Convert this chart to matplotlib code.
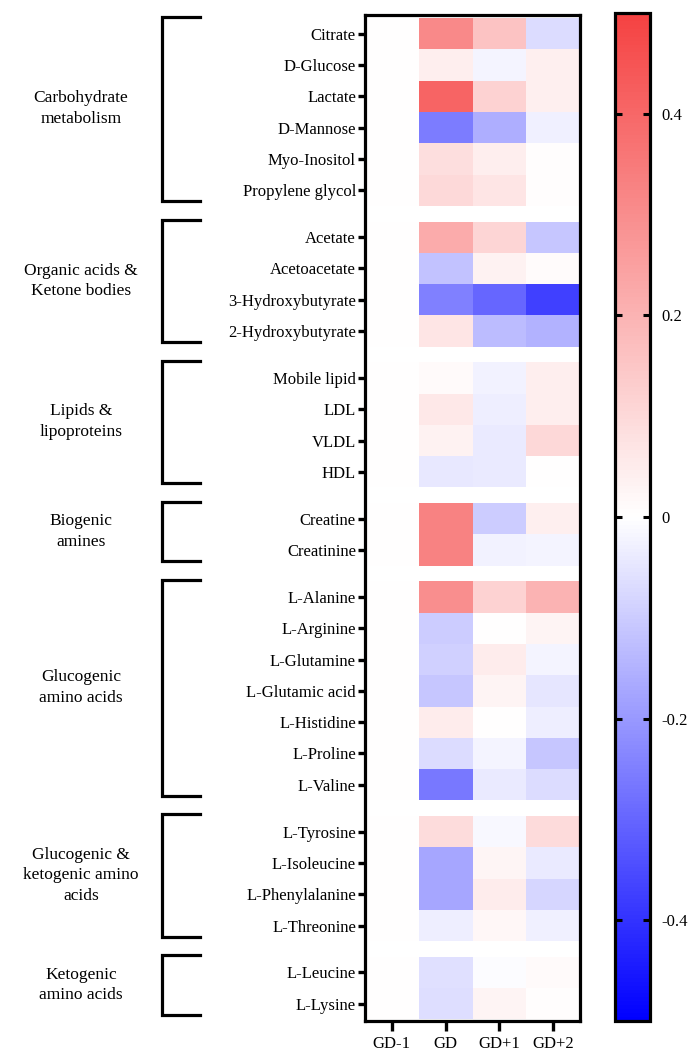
"""
Heatmap of metabolite changes (GD-1 .. GD+2) grouped by metabolic pathway.
"""

import matplotlib
matplotlib.use("Agg")
import matplotlib.pyplot as plt
import numpy as np
from matplotlib.colors import LinearSegmentedColormap
from matplotlib.transforms import blended_transform_factory

# ---------------------------------------------------------------------------
# Data
# ---------------------------------------------------------------------------
timepoints = ["GD-1", "GD", "GD+1", "GD+2"]

group_names = [
    "Carbohydrate\nmetabolism",
    "Organic acids &\nKetone bodies",
    "Lipids &\nlipoproteins",
    "Biogenic\namines",
    "Glucogenic\namino acids",
    "Glucogenic &\nketogenic amino\nacids",
    "Ketogenic\namino acids",
]
group_sizes = [6, 4, 4, 2, 7, 4, 2]

metabolites = [
    "Citrate", "D-Glucose", "Lactate", "D-Mannose", "Myo-Inositol", "Propylene glycol",
    "Acetate", "Acetoacetate", "3-Hydroxybutyrate", "2-Hydroxybutyrate",
    "Mobile lipid", "LDL", "VLDL", "HDL",
    "Creatine", "Creatinine",
    "L-Alanine", "L-Arginine", "L-Glutamine", "L-Glutamic acid", "L-Histidine",
    "L-Proline", "L-Valine",
    "L-Tyrosine", "L-Isoleucine", "L-Phenylalanine", "L-Threonine",
    "L-Leucine", "L-Lysine",
]

gd_minus1 = [0.0] * 29
gd = [0.31, 0.045, 0.41, -0.255, 0.087, 0.10,
      0.22, -0.12, -0.25, 0.07,
      0.015, 0.06, 0.035, -0.045,
      0.33, 0.33,
      0.30, -0.10, -0.09, -0.11, 0.05, -0.07, -0.265,
      0.09, -0.175, -0.175, -0.035,
      -0.06, -0.065]
gd_plus1 = [0.16, -0.02, 0.12, -0.16, 0.045, 0.07,
            0.11, 0.035, -0.30, -0.13,
            -0.025, -0.035, -0.04, -0.04,
            -0.10, -0.025,
            0.12, 0.0, 0.05, 0.03, 0.0, -0.02, -0.04,
            -0.015, 0.025, 0.05, 0.02,
            -0.005, 0.03]
gd_plus2 = [-0.07, 0.04, 0.04, -0.03, 0.005, 0.005,
            -0.11, 0.01, -0.375, -0.15,
            0.045, 0.045, 0.105, 0.0,
            0.04, -0.02,
            0.20, 0.03, -0.02, -0.05, -0.035, -0.11, -0.07,
            0.095, -0.04, -0.08, -0.03,
            0.015, 0.005]

# ---------------------------------------------------------------------------
# Build grid with half-height blank rows between groups
# ---------------------------------------------------------------------------
values = np.column_stack([gd_minus1, gd, gd_plus1, gd_plus2])
GAP = 0.5

rows, heights, centers = [], [], []
group_spans = []
y = 0.0
i = 0
for g, size in enumerate(group_sizes):
    if g > 0:
        rows.append(np.full(4, np.nan))
        heights.append(GAP)
        y += GAP
    first = y
    for _ in range(size):
        rows.append(values[i])
        heights.append(1.0)
        centers.append(y + 0.5)
        y += 1.0
        i += 1
    group_spans.append((first, y))

grid = np.array(rows)
y_edges = np.concatenate([[0.0], np.cumsum(heights)])
x_edges = np.arange(len(timepoints) + 1)

# ---------------------------------------------------------------------------
# Plot
# ---------------------------------------------------------------------------
plt.rcParams["font.family"] = ["Liberation Serif", "DejaVu Serif"]
plt.rcParams["font.size"] = 12

cmap = LinearSegmentedColormap.from_list("bwr_soft", ["#0000FF", "#FFFFFF", "#F54242"])
cmap.set_bad("white")

fig = plt.figure(figsize=(6.95, 10.59), dpi=100)
W, H = 695, 1059
ax = fig.add_axes([365 / W, 1 - 1021 / H, 215 / W, 1006 / H])
cax = fig.add_axes([615 / W, 1 - 1021 / H, 35 / W, 1008 / H])

mesh = ax.pcolormesh(x_edges, y_edges, np.ma.masked_invalid(grid),
                     cmap=cmap, vmin=-0.5, vmax=0.5)
ax.set_xlim(0, len(timepoints))
ax.set_ylim(y_edges[-1] + 0.05, -0.1)

ax.set_xticks(np.arange(len(timepoints)) + 0.5)
ax.set_xticklabels(timepoints)
ax.set_yticks(centers)
ax.set_yticklabels(metabolites)
ax.tick_params(axis="y", length=5, width=2.4, pad=1.5)
ax.tick_params(axis="x", length=7, width=2.4, pad=4)
for sp in ax.spines.values():
    sp.set_linewidth(2.3)

# Colorbar
cb = fig.colorbar(mesh, cax=cax, ticks=[0.4, 0.2, 0, -0.2, -0.4])
cb.ax.set_yticklabels(["0.4", "0.2", "0", "-0.2", "-0.4"])
cb.outline.set_linewidth(2.3)
cax.tick_params(direction="in", left=True, right=True, length=5, width=2.2, pad=8)

# Group brackets and labels
trans = blended_transform_factory(fig.transFigure, ax.transData)
x_vert, x_arm, x_label = 162 / W, 200 / W, 81 / W
for name, (top, bottom) in zip(group_names, group_spans):
    y0 = top - 0.05
    y1 = bottom - 0.15
    ax.plot([x_arm, x_vert, x_vert, x_arm], [y0, y0, y1, y1],
            color="black", lw=2.3, transform=trans, clip_on=False,
            solid_joinstyle="miter")
    ax.text(x_label, (y0 + y1) / 2, name, transform=trans,
            ha="center", va="center", multialignment="center",
            linespacing=1.4, fontsize=12.5)

fig.savefig("out.png", dpi=100)
